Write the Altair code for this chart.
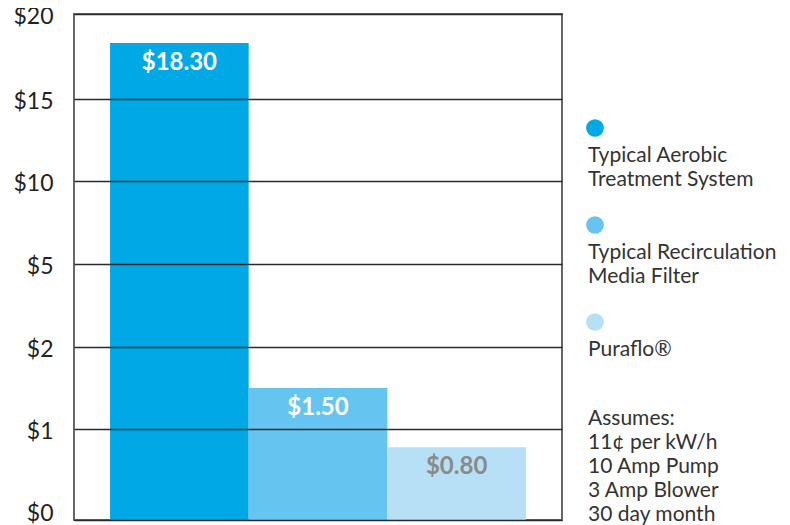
import altair as alt
import pandas as pd

# ---- data ----
categories = ["Typical Aerobic Treatment System", "Typical Recirculation Media Filter", "Puraflo®"]
costs = [18.30, 1.50, 0.80]
legend_lines = [["Typical Aerobic", "Treatment System"],
                ["Typical Recirculation", "Media Filter"],
                ["Puraflo®"]]
notes = ["Assumes:", "11¢ per kW/h", "10 Amp Pump", "3 Amp Blower", "30 day month"]
y_ticks = [0, 1, 2, 5, 10, 15, 20]
colors = ["#00A9E6", "#66C5F0", "#B7DFF5"]

FONT = "Lato"
W, H = 488, 506
# piecewise scale: the chart spaces its unequal ticks evenly
y_range = [506, 415, 333, 250, 167, 85, 0]

bars_df = pd.DataFrame({"system": categories, "cost": costs})
color_scale = alt.Scale(domain=categories, range=colors)

x_enc = alt.X("system:N", sort=categories, axis=None,
              scale=alt.Scale(paddingInner=0, paddingOuter=0.26))
y_enc = alt.Y("cost:Q",
              scale=alt.Scale(domain=y_ticks, range=y_range, nice=False),
              axis=alt.Axis(values=y_ticks, format="$d", title=None, ticks=False, tickSize=0,
                            domain=False, grid=True, gridColor="#2b2b2b", gridWidth=1.5,
                            labelFontSize=23, labelColor="#222222", labelFont=FONT,
                            labelPadding=21,
                            labelOffset={"condition": {"test": "datum.value === 0", "value": -7},
                                         "value": 2},
                            zindex=1))

base = alt.Chart(bars_df)
bars = base.mark_bar().encode(
    x=x_enc, y=y_enc,
    color=alt.Color("system:N", scale=color_scale, legend=None),
)
bar_text = base.mark_text(dy=20, fontSize=24, fontWeight="bold", font=FONT, baseline="middle").encode(
    x=x_enc, y=y_enc,
    text=alt.Text("cost:Q", format="$.2f"),
    color=alt.condition(alt.datum.cost < 1, alt.value("#8a8a8a"), alt.value("#ffffff")),
)
main = alt.layer(bars, bar_text).properties(
    width=W, height=H, view=alt.ViewBackground(stroke="#666666", strokeWidth=2)
)

# ---- legend panel ----
leg_df = pd.DataFrame({"system": categories, "label": ["\n".join(l) for l in legend_lines]})
notes_df = pd.DataFrame({"system": ["notes"], "label": ["\n".join(notes)]})
ly = alt.Y("system:N", axis=None,
           scale=alt.Scale(type="point", domain=categories + ["notes"], range=[114, 405], padding=0))

circles = alt.Chart(leg_df).mark_point(filled=True, size=314, opacity=1, shape="circle", strokeWidth=0).encode(
    x=alt.value(10), y=ly,
    color=alt.Color("system:N", scale=color_scale, legend=None),
)
labels = alt.Chart(leg_df).mark_text(align="left", baseline="alphabetic", dy=34, lineBreak="\n",
                                     lineHeight=24, fontSize=21, font=FONT, color="#333333").encode(
    x=alt.value(3), y=ly, text="label:N"
)
notes_text = alt.Chart(notes_df).mark_text(align="left", baseline="alphabetic", dy=6, lineBreak="\n",
                                           lineHeight=24, fontSize=21, font=FONT, color="#333333").encode(
    x=alt.value(3), y=ly, text="label:N"
)
legend = alt.layer(circles, labels, notes_text).properties(width=150, height=H)

chart = alt.hconcat(main, legend, spacing=23, bounds="flush").properties(
    padding={"left": 3, "top": -4, "right": 0, "bottom": 0}
).configure_view(strokeWidth=0)

chart.save("out.html", embed_options={"renderer": "svg", "actions": False})
